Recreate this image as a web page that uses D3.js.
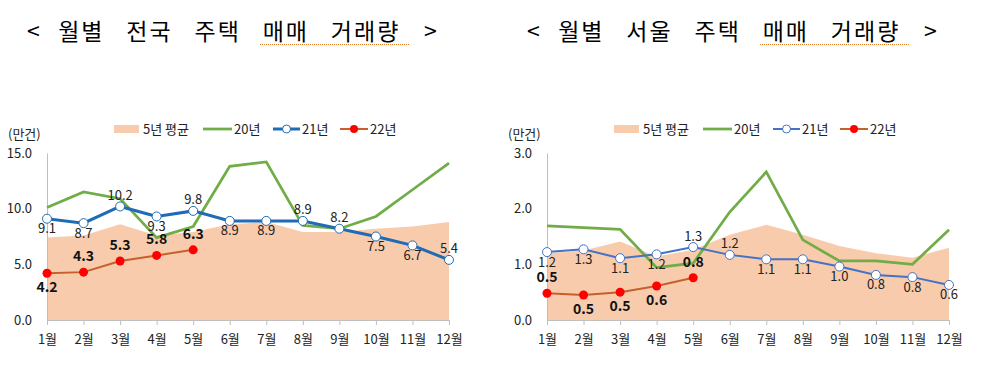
<!DOCTYPE html>
<html>
<head>
<meta charset="utf-8">
<script src="https://cdn.jsdelivr.net/npm/d3@7"></script>
<style>
  body { margin: 0; background: #fff; }
  svg text { font-family: "Noto Sans CJK KR", "Noto Sans", sans-serif; }
</style>
</head>
<body>
<div id="chart"></div>
<script>
// months on the x axis
const months = ['1월', '2월', '3월', '4월', '5월', '6월', '7월', '8월', '9월', '10월', '11월', '12월'];

// 전국 (unit: 만건)
const nationAvg5 = [7.4, 7.6, 8.6, 7.6, 7.9, 8.6, 8.8, 7.9, 7.9, 8.2, 8.4, 8.8];
const nation20 = [10.1, 11.5, 10.9, 7.4, 8.4, 13.8, 14.2, 8.5, 8.2, 9.3, 11.7, 14.1];
const nation21 = [9.1, 8.7, 10.2, 9.3, 9.8, 8.9, 8.9, 8.9, 8.2, 7.5, 6.7, 5.4];
const nation22 = [4.2, 4.3, 5.3, 5.8, 6.3];
const nationTicks = [0, 5, 10, 15];

// 서울 (unit: 만건)
const seoulAvg5 = [1.2, 1.25, 1.41, 1.14, 1.26, 1.53, 1.71, 1.53, 1.33, 1.2, 1.12, 1.3];
const seoul20 = [1.69, 1.66, 1.63, 0.94, 1.02, 1.94, 2.66, 1.44, 1.06, 1.06, 1.0, 1.62];
const seoul21 = [1.22, 1.27, 1.11, 1.18, 1.31, 1.17, 1.09, 1.09, 0.96, 0.81, 0.77, 0.63];
const seoul22 = [0.48, 0.45, 0.5, 0.61, 0.76];
const seoulTicks = [0, 1, 2, 3];

// where each value label sits: a = above the point, b = below
const nation21Pos = ['b', 'b', 'a', 'b', 'a', 'b', 'b', 'a', 'a', 'b', 'b', 'a'];
const nation22Pos = ['b', 'a', 'a', 'a', 'a'];
const seoul21Pos = ['b', 'b', 'b', 'b', 'a', 'a', 'b', 'b', 'b', 'b', 'b', 'b'];
const seoul22Pos = ['a', 'b', 'b', 'b', 'a'];

const legendNames = ['5년 평균', '20년', '21년', '22년'];

const W = 986, H = 371;
const AREA = '#F8CBAD', GREEN = '#70AD47', RED = '#FF0000', ORANGE = '#C5602B';
const fmt = d3.format('.1f');

const svg = d3.select('#chart').append('svg')
    .attr('width', W)
    .attr('height', H);

function drawPanel(o) {
    const g = svg.append('g').attr('transform', `translate(${o.dx},0)`);

    const x = d3.scalePoint().domain(months).range([47, 449]);
    const y = d3.scaleLinear().domain([0, o.max]).range([320, 153]);

    // title, word by word so the gaps between words stay wide
    const words = o.title.split(' ');
    const title = g.append('text')
        .attr('y', 40)
        .attr('font-size', 23)
        .attr('fill', '#000')
        .attr('letter-spacing', 2);
    const widths = words.map(w => w === '<' || w === '>' ? 13 : w.length * 25);
    const gap = (410 - d3.sum(widths)) / (words.length - 1);
    let cx = 27;
    words.forEach((w, i) => {
        title.append('tspan').attr('x', cx).text(w);
        cx += widths[i] + gap;
    });
    // spell-check style squiggle under 매매 거래량
    g.append('line')
        .attr('x1', 260).attr('x2', 409)
        .attr('y1', 44.5).attr('y2', 44.5)
        .attr('stroke', '#E07B20')
        .attr('stroke-width', 1)
        .attr('stroke-dasharray', '1,1');

    // unit
    g.append('text')
        .attr('x', 8)
        .attr('y', 139)
        .attr('font-size', 13)
        .attr('fill', '#222')
        .text('(만건)');

    // 5-year average area
    const area = d3.area()
        .x((d, i) => x(months[i]))
        .y0(y(0))
        .y1(d => y(d));
    g.append('path')
        .datum(o.avg)
        .attr('d', area)
        .attr('fill', AREA);

    // axes
    const yAxis = g.append('g')
        .attr('transform', `translate(${x(months[0])},0)`)
        .call(d3.axisLeft(y).tickValues(o.ticks).tickFormat(fmt).tickSize(0).tickPadding(15));
    yAxis.select('.domain').attr('stroke', '#BFBFBF');
    yAxis.selectAll('text').attr('font-size', 13).attr('fill', '#222')
        .attr('font-family', '"Noto Sans", sans-serif');

    const xAxis = g.append('g')
        .attr('transform', `translate(0,${y(0)})`)
        .call(d3.axisBottom(x).tickSize(5).tickPadding(10).tickSizeOuter(0));
    xAxis.select('.domain').attr('stroke', '#BFBFBF');
    xAxis.selectAll('.tick line').attr('stroke', '#BFBFBF');
    xAxis.selectAll('text').attr('font-size', 13).attr('fill', '#222');

    const line = d3.line()
        .x((d, i) => x(months[i]))
        .y(d => y(d));

    // 20년
    g.append('path')
        .datum(o.s20)
        .attr('d', line)
        .attr('fill', 'none')
        .attr('stroke', GREEN)
        .attr('stroke-width', 2.75)
        .attr('stroke-linejoin', 'miter');

    // 21년
    g.append('path')
        .datum(o.s21)
        .attr('d', line)
        .attr('fill', 'none')
        .attr('stroke', o.blue)
        .attr('stroke-width', o.blueWidth);
    g.selectAll('.m21')
        .data(o.s21)
        .join('circle')
        .attr('class', 'm21')
        .attr('cx', (d, i) => x(months[i]))
        .attr('cy', d => y(d))
        .attr('r', 4.5)
        .attr('fill', '#fff')
        .attr('stroke', o.blue)
        .attr('stroke-width', 1);
    g.selectAll('.l21')
        .data(o.s21)
        .join('text')
        .attr('class', 'l21')
        .attr('x', (d, i) => x(months[i]))
        .attr('y', (d, i) => y(d) + (o.pos21[i] === 'a' ? -11 : 10))
        .attr('dy', '0.35em')
        .attr('text-anchor', 'middle')
        .attr('font-size', 13)
        .attr('fill', '#222')
        .attr('font-family', '"Noto Sans", sans-serif')
        .text(d => fmt(d));

    // 22년
    g.append('path')
        .datum(o.s22)
        .attr('d', line)
        .attr('fill', 'none')
        .attr('stroke', ORANGE)
        .attr('stroke-width', 2);
    g.selectAll('.m22')
        .data(o.s22)
        .join('circle')
        .attr('class', 'm22')
        .attr('cx', (d, i) => x(months[i]))
        .attr('cy', d => y(d))
        .attr('r', 4.5)
        .attr('fill', RED);
    g.selectAll('.l22')
        .data(o.s22)
        .join('text')
        .attr('class', 'l22')
        .attr('x', (d, i) => x(months[i]))
        .attr('y', (d, i) => y(d) + (o.pos22[i] === 'a' ? -16 : 14))
        .attr('dy', '0.35em')
        .attr('text-anchor', 'middle')
        .attr('font-size', 14)
        .attr('font-weight', 'bold')
        .attr('fill', '#111')
        .attr('font-family', '"Noto Sans", sans-serif')
        .text(d => fmt(d));

    // legend
    const lg = g.append('g').attr('font-size', 13).attr('fill', '#222');
    const ly = 129;
    lg.append('rect')
        .attr('x', 114).attr('y', ly - 4)
        .attr('width', 25).attr('height', 8)
        .attr('fill', AREA);
    lg.append('text').attr('x', 143).attr('y', ly).attr('dy', '0.35em').text(legendNames[0]);

    lg.append('line')
        .attr('x1', 203).attr('x2', 232).attr('y1', ly).attr('y2', ly)
        .attr('stroke', GREEN).attr('stroke-width', 2.75);
    lg.append('text').attr('x', 234).attr('y', ly).attr('dy', '0.35em').text(legendNames[1]);

    lg.append('line')
        .attr('x1', 273).attr('x2', 300).attr('y1', ly).attr('y2', ly)
        .attr('stroke', o.blue).attr('stroke-width', o.blueWidth);
    lg.append('circle')
        .attr('cx', 286.5).attr('cy', ly).attr('r', 4)
        .attr('fill', '#fff').attr('stroke', o.blue).attr('stroke-width', 1);
    lg.append('text').attr('x', 302).attr('y', ly).attr('dy', '0.35em').text(legendNames[2]);

    lg.append('line')
        .attr('x1', 340).attr('x2', 368).attr('y1', ly).attr('y2', ly)
        .attr('stroke', ORANGE).attr('stroke-width', 2);
    lg.append('circle')
        .attr('cx', 354).attr('cy', ly).attr('r', 4)
        .attr('fill', RED);
    lg.append('text').attr('x', 370).attr('y', ly).attr('dy', '0.35em').text(legendNames[3]);
}

drawPanel({
    dx: 0,
    title: '< 월별 전국 주택 매매 거래량 >',
    max: 15,
    ticks: nationTicks,
    avg: nationAvg5,
    s20: nation20,
    s21: nation21,
    s22: nation22,
    pos21: nation21Pos,
    pos22: nation22Pos,
    blue: '#1F6BB5',
    blueWidth: 3
});

drawPanel({
    dx: 500,
    title: '< 월별 서울 주택 매매 거래량 >',
    max: 3,
    ticks: seoulTicks,
    avg: seoulAvg5,
    s20: seoul20,
    s21: seoul21,
    s22: seoul22,
    pos21: seoul21Pos,
    pos22: seoul22Pos,
    blue: '#4472C4',
    blueWidth: 2
});
</script>
</body>
</html>
